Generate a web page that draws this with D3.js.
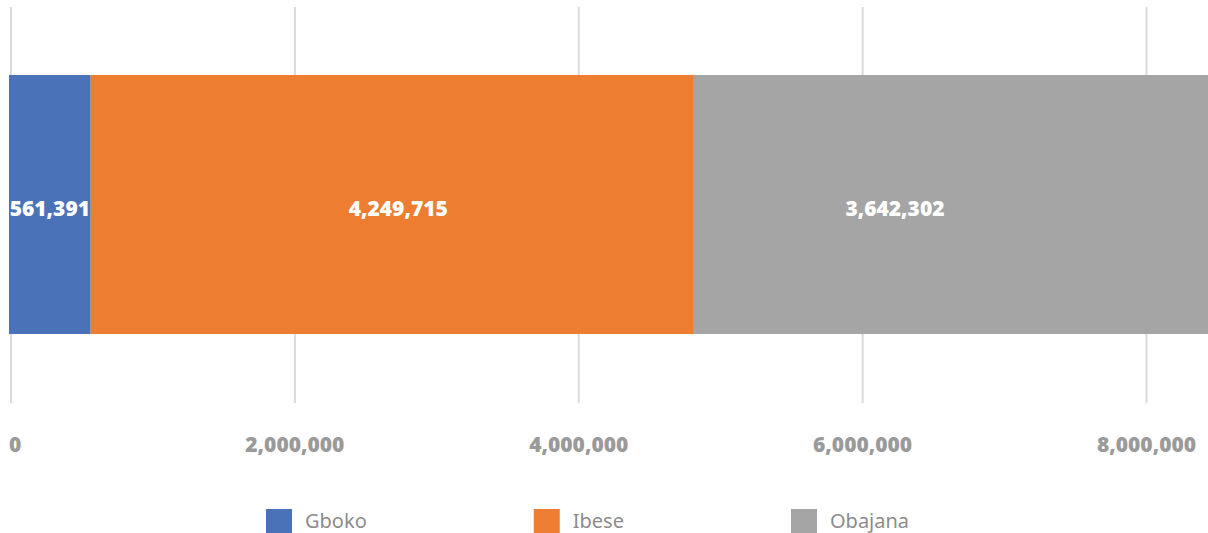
<!DOCTYPE html>
<html>
<head>
<meta charset="utf-8">
<script src="https://cdn.jsdelivr.net/npm/d3@7"></script>
<style>
  body { margin: 0; background: #fff; }
  svg { display: block; }
</style>
</head>
<body>
<svg id="chart"></svg>
<script>
// Data
var categories = ["Gboko", "Ibese", "Obajana"];
var values = [561391, 4249715, 3642302];
var colors = ["#4a72b8", "#ed7d31", "#a5a5a5"];
var tickValues = [0, 2000000, 4000000, 6000000, 8000000];

var width = 1208, height = 533;

var svg = d3.select("#chart")
    .attr("width", width)
    .attr("height", height);

// x scale: 0 sits at 11px, 8M at ~1146px
var xScale = d3.scaleLinear()
    .domain([0, 8000000])
    .range([11, 1146.5]);

// Gridlines
svg.append("g")
    .selectAll("line")
    .data(tickValues)
    .enter()
    .append("line")
    .attr("x1", function(d) { return xScale(d); })
    .attr("x2", function(d) { return xScale(d); })
    .attr("y1", 7)
    .attr("y2", 403)
    .attr("stroke", "#d9d9d9")
    .attr("stroke-width", 2);

// Stacked segments
var stack = [];
var running = 0;
values.forEach(function(v, i) {
    stack.push({ name: categories[i], value: v, x0: running, x1: running + v, color: colors[i] });
    running += v;
});

var barTop = 75, barBottom = 334;
var labelRight = 1096; // labels centered within the visible plot area

// first segment starts a touch left of the zero line
function segStart(d, i) { return xScale(d.x0) - (i === 0 ? 2 : 0); }

svg.append("g")
    .selectAll("rect")
    .data(stack)
    .enter()
    .append("rect")
    .attr("x", segStart)
    .attr("y", barTop)
    .attr("width", function(d, i) { return xScale(d.x1) - segStart(d, i); })
    .attr("height", barBottom - barTop)
    .attr("fill", function(d) { return d.color; });

// Value labels inside segments
svg.append("g")
    .selectAll("text")
    .data(stack)
    .enter()
    .append("text")
    .attr("x", function(d, i) {
        var a = segStart(d, i), b = Math.min(xScale(d.x1), labelRight);
        return (a + b) / 2 + (d.name === "Ibese" ? 6 : 0);
    })
    .attr("y", 216)
    .attr("text-anchor", "middle")
    .attr("fill", "#ffffff")
    .style("font-family", "'Open Sans', sans-serif")
    .style("font-weight", "800")
    .style("font-size", "21px")
    .text(function(d) { return d3.format(",")(d.value); });

// Axis tick labels
svg.append("g")
    .selectAll("text")
    .data(tickValues)
    .enter()
    .append("text")
    .attr("x", function(d) { return d === 0 ? 9 : xScale(d); })
    .attr("y", 452)
    .attr("text-anchor", function(d) { return d === 0 ? "start" : "middle"; })
    .attr("fill", "#9a9a9a")
    .style("font-family", "'Open Sans', sans-serif")
    .style("font-weight", "800")
    .style("font-size", "21px")
    .text(function(d) { return d3.format(",")(d); });

// Legend
var legend = svg.append("g");
var lx = 266;
categories.forEach(function(name, i) {
    legend.append("rect")
        .attr("x", lx)
        .attr("y", 509)
        .attr("width", 26)
        .attr("height", 24)
        .attr("fill", colors[i]);
    var t = legend.append("text")
        .attr("x", lx + 39)
        .attr("y", 528)
        .attr("fill", "#8c8c8c")
        .style("font-family", "'Noto Sans', sans-serif")
        .style("font-size", "20px")
        .text(name);
    lx += 39 + t.node().getComputedTextLength() + 167;
});
</script>
</body>
</html>
